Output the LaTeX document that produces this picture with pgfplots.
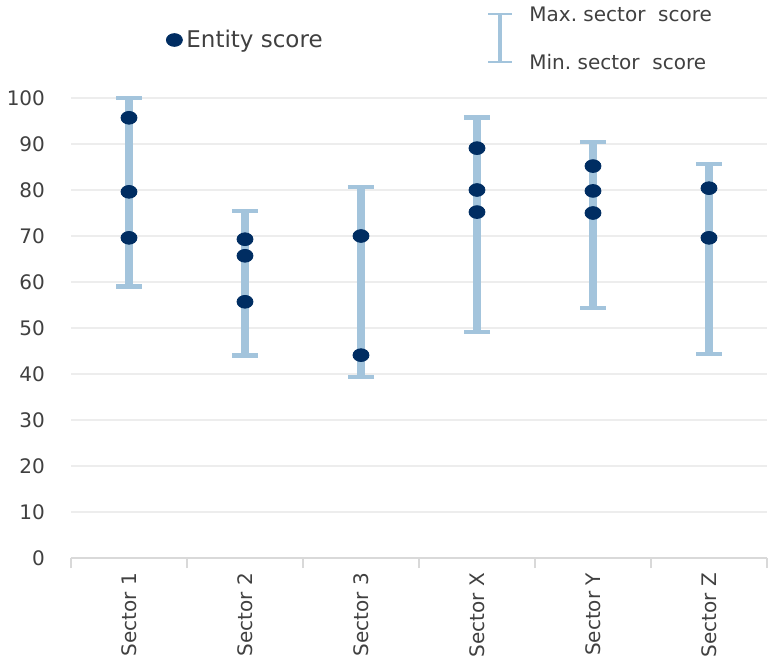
\documentclass[border=0pt]{standalone}
\usepackage{pgfplots}
\pgfplotsset{compat=1.18}
\usepackage{fontspec}
\setmainfont{DejaVu Sans}
\definecolor{barblue}{HTML}{A3C4DC}
\definecolor{navy}{HTML}{002D62}
\definecolor{txt}{HTML}{404040}
\begin{document}
\begin{tikzpicture}
\begin{axis}[
    scale only axis, width=348pt, height=230pt,
    xmin=-0.5, xmax=5.5, ymin=0, ymax=100,
    clip=false,
    /pgf/number format/assume math mode=true,
    axis x line*=bottom, axis y line*=left,
    x axis line style={draw=black!15, line width=0.8pt, -},
    y axis line style={draw=none},
    xtick={0,...,5},
    xticklabels={Sector 1,Sector 2,Sector 3,Sector X,Sector Y,Sector Z},
    minor xtick={-0.5,0.5,...,5.5},
    ytick={0,10,...,100},
    major tick length=0pt, minor tick length=5pt,
    tick align=outside,
    minor tick style={draw=black!15, line width=0.8pt},
    ymajorgrids, grid style={black!7, line width=0.6pt},
    xticklabel style={rotate=90, anchor=east, font=\fontsize{10}{12}\selectfont, text=txt, xshift=-4pt},
    yticklabel style={anchor=east, font=\fontsize{10}{12}\selectfont, text=txt, xshift=-9.5pt},
    legend style={at={(axis description cs:0,1)}, anchor=west, xshift=47.5pt, yshift=29pt,
        draw=none, fill=none, inner sep=0pt, font=\fontsize{11.5}{13}\selectfont, text=txt},
    legend image code/.code={\draw[#1] plot coordinates {(0.3cm,0cm)};},
]
% min/max range per sector: centre +- half range
\addplot[draw=none, mark=none, forget plot,
    error bars/.cd, y dir=both, y explicit,
    error bar style={draw=barblue, line width=4.4pt},
    error mark=|, error mark options={draw=barblue, line width=2.2pt, mark size=6.5pt}]
coordinates {
    (0,79.5)  +- (0,20.5)
    (1,59.75) +- (0,15.75)
    (2,60.0)  +- (0,20.7)
    (3,72.45) +- (0,23.35)
    (4,72.4)  +- (0,18.1)
    (5,65.05) +- (0,20.65)
};
% entity scores
\addplot[only marks, mark=*, mark size=3.2pt, mark options={draw=navy, fill=navy, xscale=1.25}]
coordinates {
    (0,95.7)(0,79.6)(0,69.6)
    (1,69.3)(1,65.7)(1,55.7)
    (2,70.0)(2,44.1)
    (3,89.1)(3,80.0)(3,75.2)
    (4,85.2)(4,79.8)(4,75.0)
    (5,80.4)(5,69.6)
};
\addlegendentry{Entity score}
\coordinate (O) at (rel axis cs:0,0);
\draw[barblue, line width=1.6pt] ([shift={(214.5pt,248pt)}]O) -- ([shift={(214.5pt,272pt)}]O);
\draw[barblue, line width=1.4pt] ([shift={(208.5pt,248pt)}]O) -- ([shift={(220.5pt,248pt)}]O);
\draw[barblue, line width=1.4pt] ([shift={(208.5pt,272pt)}]O) -- ([shift={(220.5pt,272pt)}]O);
\node[anchor=west, inner sep=0pt, text=txt, font=\fontsize{10}{12}\selectfont] at ([shift={(229pt,272pt)}]O) {Max.\ sector\ \ score};
\node[anchor=west, inner sep=0pt, text=txt, font=\fontsize{10}{12}\selectfont] at ([shift={(229pt,248pt)}]O) {Min.\ sector\ \ score};
\end{axis}
\pgfresetboundingbox
\path[use as bounding box] ([shift={(-35.5pt,-50.5pt)}]O) rectangle ([shift={(349pt,279pt)}]O);
\end{tikzpicture}
\end{document}
